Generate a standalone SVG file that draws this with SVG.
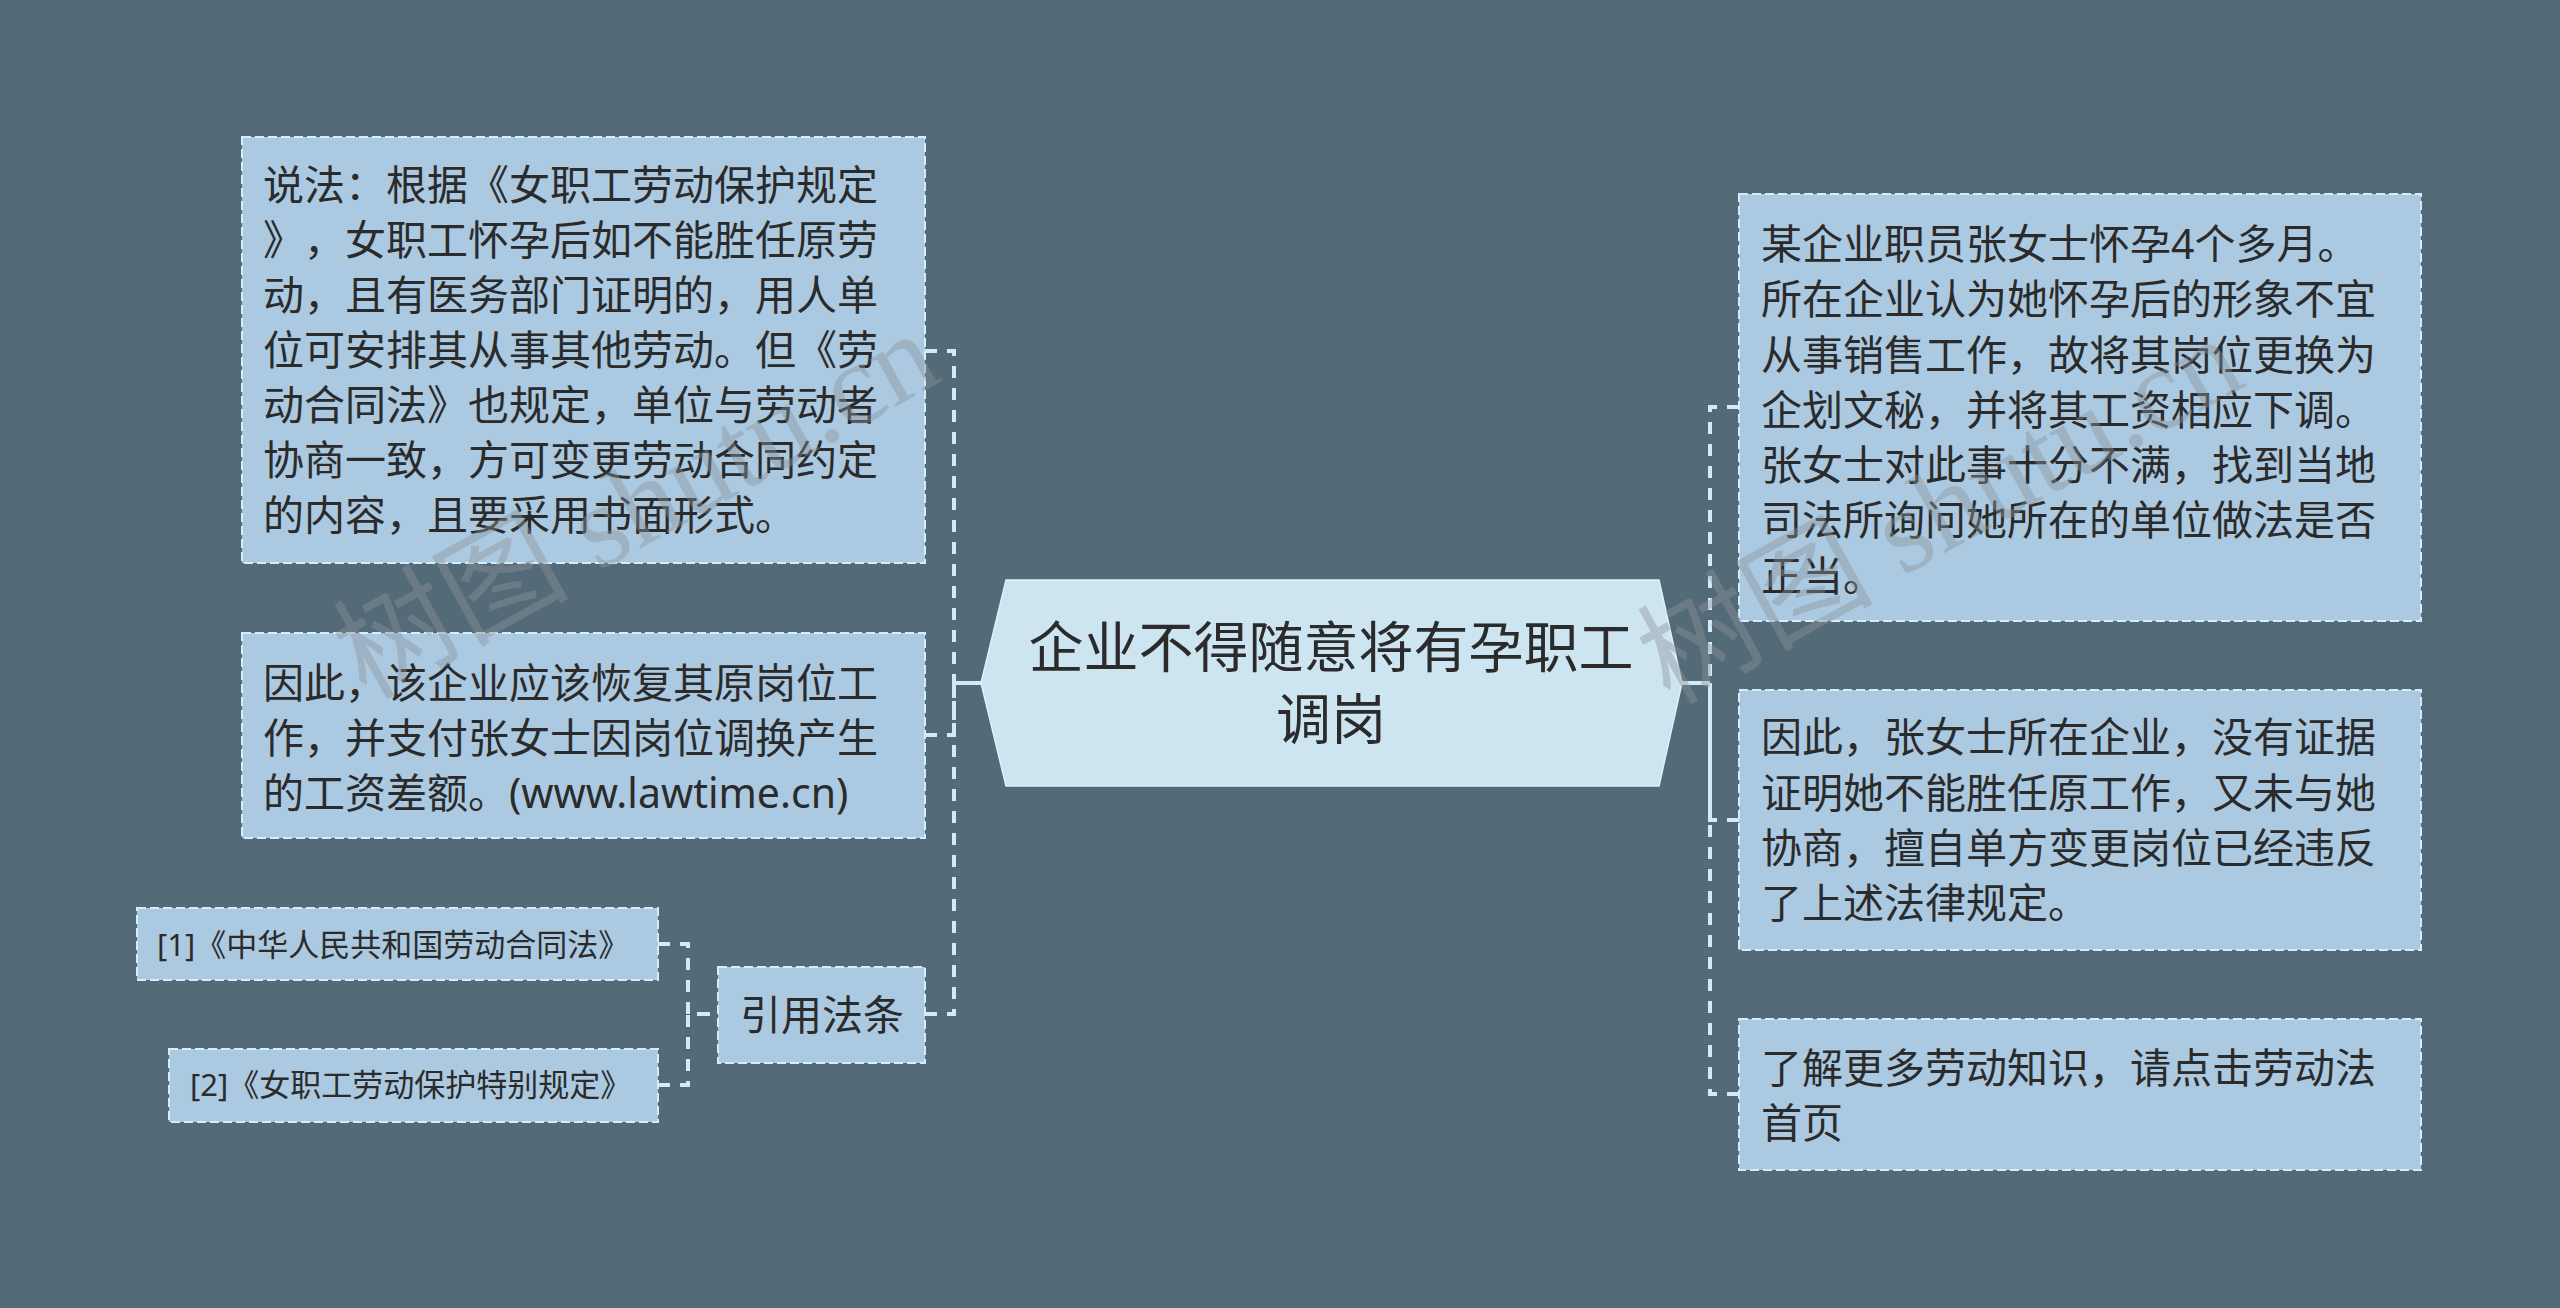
<svg xmlns="http://www.w3.org/2000/svg" width="2560" height="1308" viewBox="0 0 2560 1308">
<style>
.bg{fill:#536a79}
.box{fill:#abc9e0;stroke:#d5edf9;stroke-width:2;stroke-dasharray:9 4}
.center{fill:#cde4f1;stroke:#dff0f9;stroke-width:1.5}
.t{font-family:"Noto Sans","Noto Sans CJK SC",sans-serif;fill:#2b2b2b;text-spacing-trim:space-all;font-feature-settings:"halt" 0,"chws" 0}
.m{font-size:41px}
.s{font-size:31px}
.c{font-size:55px;text-anchor:middle}
.dash{fill:none;stroke:#d3ebf8;stroke-width:4;stroke-dasharray:12 10}
.solid{fill:none;stroke:#d3ebf8;stroke-width:4}
.wm{font-family:"Liberation Serif","Noto Sans CJK SC",serif;font-size:118px;fill:#8c949a;opacity:0.42}
</style>
<rect class="bg" x="0" y="0" width="2560" height="1308"/>

<g id="connectors">
  <path class="solid" d="M982 683 H954"/>
  <path class="dash" d="M925 351 H954 V683"/>
  <path class="dash" d="M925 735 H954 V683"/>
  <path class="dash" d="M925 1014 H954 V683"/>
  <path class="dash" d="M658 944 H688 V1014 H718"/>
  <path class="dash" d="M658 1085 H688 V1014 H718"/>
  <path class="solid" d="M1682 683 H1710"/>
  <path class="dash" d="M1739 407 H1710 V683"/>
  <path class="dash" d="M1739 820 H1710 V683"/>
  <path class="dash" d="M1739 1094 H1710 V683"/>
</g>

<g id="center">
  <polygon class="center" points="981,683 1006,580 1659,580 1682,683 1659,786 1006,786"/>
  <text class="t c" x="1331" y="667">企业不得随意将有孕职工</text>
  <text class="t c" x="1331" y="739">调岗</text>
</g>

<g id="left1">
  <rect class="box" x="242" y="137" width="683" height="426"/>
  <text class="t m" x="263">
    <tspan x="263" y="200">说法：根据《女职工劳动保护规定</tspan>
    <tspan x="263" y="255">》，女职工怀孕后如不能胜任原劳</tspan>
    <tspan x="263" y="310">动，且有医务部门证明的，用人单</tspan>
    <tspan x="263" y="365">位可安排其从事其他劳动。但《劳</tspan>
    <tspan x="263" y="420">动合同法》也规定，单位与劳动者</tspan>
    <tspan x="263" y="475">协商一致，方可变更劳动合同约定</tspan>
    <tspan x="263" y="530">的内容，且要采用书面形式。</tspan>
  </text>
</g>

<g id="left2">
  <rect class="box" x="242" y="633" width="683" height="205"/>
  <text class="t m">
    <tspan x="263" y="698">因此，该企业应该恢复其原岗位工</tspan>
    <tspan x="263" y="753">作，并支付张女士因岗位调换产生</tspan>
    <tspan x="263" y="808">的工资差额。(www.lawtime.cn)</tspan>
  </text>
</g>

<g id="cite">
  <rect class="box" x="718" y="967" width="207" height="96"/>
  <text class="t m" x="740" y="1030">引用法条</text>
</g>

<g id="cite1">
  <rect class="box" x="137" y="908" width="521" height="72"/>
  <text class="t s" x="157" y="956">[1]《中华人民共和国劳动合同法》</text>
</g>

<g id="cite2">
  <rect class="box" x="169" y="1049" width="489" height="73"/>
  <text class="t s" x="190" y="1096">[2]《女职工劳动保护特别规定》</text>
</g>

<g id="right1">
  <rect class="box" x="1739" y="194" width="682" height="427"/>
  <text class="t m">
    <tspan x="1761" y="259">某企业职员张女士怀孕4个多月。</tspan>
    <tspan x="1761" y="314">所在企业认为她怀孕后的形象不宜</tspan>
    <tspan x="1761" y="370">从事销售工作，故将其岗位更换为</tspan>
    <tspan x="1761" y="425">企划文秘，并将其工资相应下调。</tspan>
    <tspan x="1761" y="480">张女士对此事十分不满，找到当地</tspan>
    <tspan x="1761" y="535">司法所询问她所在的单位做法是否</tspan>
    <tspan x="1761" y="591">正当。</tspan>
  </text>
</g>

<g id="right2">
  <rect class="box" x="1739" y="690" width="682" height="260"/>
  <text class="t m">
    <tspan x="1761" y="752">因此，张女士所在企业，没有证据</tspan>
    <tspan x="1761" y="808">证明她不能胜任原工作，又未与她</tspan>
    <tspan x="1761" y="863">协商，擅自单方变更岗位已经违反</tspan>
    <tspan x="1761" y="918">了上述法律规定。</tspan>
  </text>
</g>

<g id="right3">
  <rect class="box" x="1739" y="1019" width="682" height="151"/>
  <text class="t m">
    <tspan x="1761" y="1083">了解更多劳动知识，请点击劳动法</tspan>
    <tspan x="1761" y="1138">首页</tspan>
  </text>
</g>

<g id="watermark">
  <text class="wm" transform="translate(636,505) rotate(-29)" text-anchor="middle" y="40">树图 shutu.cn</text>
  <text class="wm" transform="translate(1940,510) rotate(-29)" text-anchor="middle" y="40">树图 shutu.cn</text>
</g>
</svg>
